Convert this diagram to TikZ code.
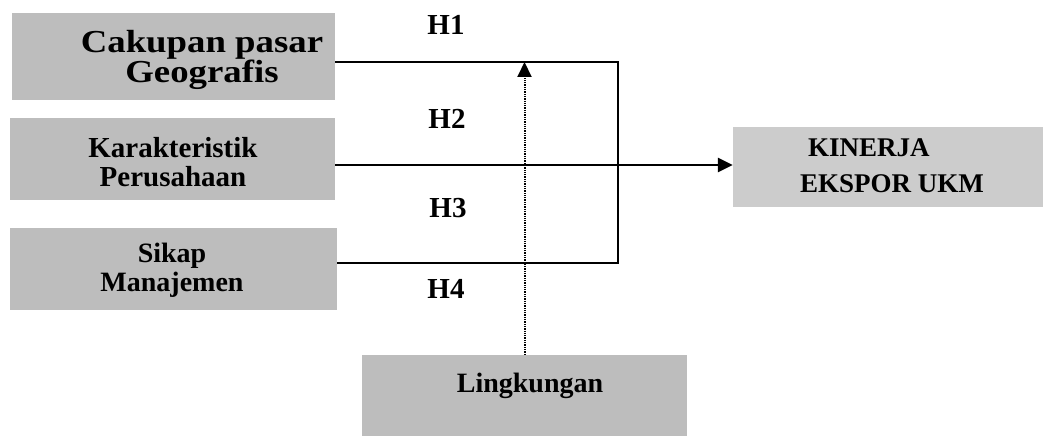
\documentclass[tikz,border=0pt]{standalone}
\usepackage{fontspec}
\setmainfont{Liberation Serif}
\newfontfamily\widefont[FakeStretch=1.15]{Liberation Serif}
\usetikzlibrary{arrows.meta}
\definecolor{halftone}{gray}{0.74}
\definecolor{halftonelight}{gray}{0.8}
\tikzset{
  x=1pt, y=-1pt,
  boxshape/.style={draw=none, fill=halftone, inner sep=0pt},
  boxlabel/.style={inner sep=0pt, align=center, font=\bfseries},
  hlabel/.style={inner sep=0pt, anchor=base, font=\fontsize{29}{30}\selectfont\bfseries},
  mainline/.style={line width=2.6pt},
  dotline/.style={line width=2pt, dash pattern=on 1.3pt off 1pt},
  tip/.style={-{Triangle[length=15pt,width=14pt]}}
}
\begin{document}
\begin{tikzpicture}
\useasboundingbox (0,0) rectangle (1052,436);
% boxes
\node[boxshape, minimum width=323pt, minimum height=87pt] (b1) at (173.5,56.5) {};
\node[boxshape, minimum width=325pt, minimum height=82pt] (b2) at (172.5,159) {};
\node[boxshape, minimum width=327pt, minimum height=82pt] (b3) at (173.5,269) {};
\node[boxshape, fill=halftonelight, minimum width=310pt, minimum height=80pt] (kin) at (888,167) {};
\node[boxshape, minimum width=325pt, minimum height=81pt] (env) at (524.5,395.5) {};
% box texts
\node[boxlabel, font=\widefont\fontsize{32}{30}\selectfont\bfseries] (t1) at (202,60) {Cakupan pasar\\Geografis};
\node[boxlabel, font=\fontsize{29}{29}\selectfont\bfseries] (t2) at (173,162) {Karakteristik\\Perusahaan};
\node[boxlabel, font=\fontsize{28}{29}\selectfont\bfseries] (t3) at (172,270) {Sikap\\Manajemen};
\node[boxlabel, align=left, anchor=west, font=\fontsize{27}{36}\selectfont\bfseries] (tk) at (800,165.5) {\hspace*{8pt}KINERJA\\EKSPOR UKM};
\node[boxlabel, anchor=base, font=\fontsize{28}{30}\selectfont\bfseries] (tl) at (530,392) {Lingkungan};
% hypothesis labels
\node[hlabel] (h1) at (446,35) {H1};
\node[hlabel] (h2) at (447,128) {H2};
\node[hlabel] (h3) at (448,217) {H3};
\node[hlabel] (h4) at (446,298) {H4};
% connectors
\coordinate (c1) at (618,62);
\coordinate (c3) at (618,263);
\coordinate (cm) at (618,165);
\draw[mainline] (b1.east |- c1) -- (c1) -- (c3) -- (b3.east |- c3);
\draw[mainline, tip] (b2.east |- cm) -- (kin.west |- cm);
\draw[dotline, tip] (env.north) -- (env.north |- c1);
\end{tikzpicture}
\end{document}
